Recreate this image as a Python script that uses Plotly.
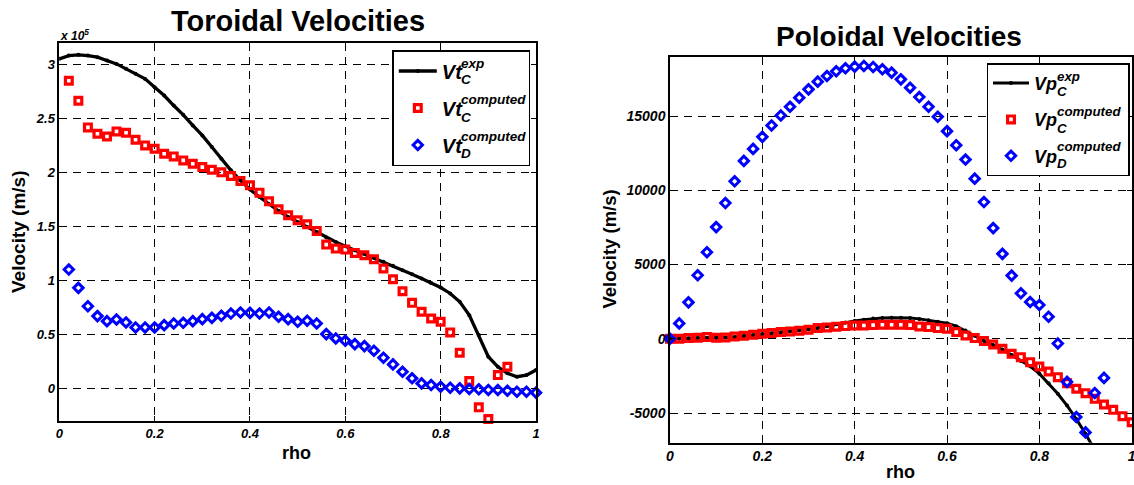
import plotly.graph_objects as go

# ---------------- data ----------------
rho_all = [round(0.02 * i, 2) for i in range(0, 51)]          # 0 .. 1.0

# Toroidal (units of 1e5 m/s)
vt_exp = [3.056, 3.086, 3.093, 3.086, 3.071, 3.04, 3.009, 2.963, 2.917, 2.87,
          2.793, 2.716, 2.623, 2.537, 2.438, 2.346, 2.238, 2.13, 2.022, 1.929,
          1.843, 1.775, 1.707, 1.645, 1.59, 1.543, 1.497, 1.451, 1.398, 1.358,
          1.318, 1.281, 1.25, 1.213, 1.173, 1.136, 1.096, 1.059, 1.019, 0.978,
          0.935, 0.88, 0.802, 0.679, 0.494, 0.293, 0.2, 0.139, 0.108, 0.123, 0.17]
vt_c_comp = [2.852, 2.667, 2.42, 2.361, 2.336, 2.383, 2.37, 2.306, 2.253, 2.222,
             2.176, 2.151, 2.114, 2.083, 2.052, 2.028, 2.003, 1.969, 1.923, 1.883,
             1.815, 1.735, 1.66, 1.605, 1.559, 1.522, 1.46, 1.333, 1.296, 1.287,
             1.256, 1.235, 1.198, 1.111, 1.012, 0.901, 0.793, 0.71, 0.648, 0.617,
             0.519, 0.33, 0.068, -0.176, -0.284, 0.123, 0.2]
vt_d_comp = [1.102, 0.932, 0.762, 0.670, 0.623, 0.639, 0.611, 0.565, 0.565, 0.565,
             0.586, 0.602, 0.608, 0.623, 0.642, 0.654, 0.673, 0.694, 0.704, 0.70,
             0.694, 0.704, 0.664, 0.642, 0.617, 0.627, 0.602, 0.503, 0.463, 0.441,
             0.41, 0.392, 0.349, 0.284, 0.222, 0.154, 0.093, 0.046, 0.031, 0.015,
             0.006, 0.0, -0.006, -0.009, -0.015, -0.015, -0.022, -0.031, -0.031, -0.040]

# Poloidal (m/s)
vp_exp = [0, 10, 30, 50, 60, 60, 80, 120, 180, 250,
          320, 380, 440, 500, 560, 620, 720, 850, 980, 1100,
          1200, 1290, 1360, 1400, 1420, 1420, 1400, 1340, 1250, 1150,
          1050, 850, 550, 200, -150, -420, -720, -1100, -1500, -1850,
          -2350, -3000, -3700, -4500, -5400, -6400, -7500]
vp_c_comp = [0, 0, 45, 67, 112, 67, 90, 157, 202, 270,
             337, 382, 449, 494, 539, 607, 719, 764, 809, 854,
             899, 899, 921, 944, 944, 944, 921, 831, 787, 719,
             674, 449, 225, 45, -157, -382, -674, -1011, -1236, -1573,
             -1865, -2202, -2584, -2989, -3371, -3663, -4045, -4427, -4787, -5213,
             -5618]
vp_d_comp = [0, 1036, 2455, 4279, 5833, 7522, 9143, 10607, 11981, 12791,
             13602, 14368, 15043, 15629, 16237, 16800, 17318, 17700, 18016, 18219,
             18331, 18376, 18309, 18151, 17926, 17476, 16913, 16282, 15629, 14953,
             13985, 13039, 12071, 10787, 9211, 7454, 5720, 4256, 3063, 2477,
             2275, 1486, -315, -2905, -5270, -6306, -3648, -2635]

x_ticks = [0, 0.2, 0.4, 0.6, 0.8, 1]
x_ticktext = ["0", "0.2", "0.4", "0.6", "0.8", "1"]
yt_ticks = [0, 0.5, 1, 1.5, 2, 2.5, 3]
yt_ticktext = ["0", "0.5", "1", "1.5", "2", "2.5", "3"]
yp_ticks = [-5000, 0, 5000, 10000, 15000]
yp_ticktext = ["-5000", "0", "5000", "10000", "15000"]

# ---------------- figure ----------------
W, H = 1134, 485
FONT = "Liberation Sans, Arial, Helvetica, sans-serif"


def X(px):
    return px / W


def Y(py):
    return 1 - py / H


fig = go.Figure()

RED = "#FF0000"
BLUE = "#0000FF"
SQ = dict(symbol="square-open", size=6.8, color=RED, line=dict(width=3.2, color=RED))
DI = dict(symbol="diamond-open", size=7.2, color=BLUE, line=dict(width=3.0, color=BLUE))
NB = "\u00a0"


def lname(s, pad):
    return "<b><i>" + s + "</i></b>" + NB * pad


# left panel
fig.add_trace(go.Scatter(x=rho_all[:len(vt_exp)], y=vt_exp, mode="lines+markers",
                         line=dict(color="black", width=3.3), marker=dict(size=4, color="black"),
                         name=lname("Vt", 11), legendgroup="a", legend="legend", xaxis="x", yaxis="y"))
fig.add_trace(go.Scatter(x=rho_all[1:1 + len(vt_c_comp)], y=vt_c_comp, mode="markers",
                         marker=SQ, cliponaxis=False, name=lname("Vt", 11), legendgroup="b",
                         legend="legend", xaxis="x", yaxis="y"))
fig.add_trace(go.Scatter(x=rho_all[1:1 + len(vt_d_comp)], y=vt_d_comp, mode="markers",
                         marker=DI, cliponaxis=False, name=lname("Vt", 11), legendgroup="c",
                         legend="legend", xaxis="x", yaxis="y"))

# right panel
fig.add_trace(go.Scatter(x=rho_all[:len(vp_exp)], y=vp_exp, mode="lines+markers",
                         line=dict(color="black", width=3), marker=dict(size=4, color="black"),
                         name=lname("Vp", 13), legendgroup="a", legend="legend2", xaxis="x2", yaxis="y2"))
fig.add_trace(go.Scatter(x=rho_all[:len(vp_c_comp)], y=vp_c_comp, mode="markers",
                         marker=SQ, cliponaxis=False, name=lname("Vp", 13), legendgroup="b",
                         legend="legend2", xaxis="x2", yaxis="y2"))
fig.add_trace(go.Scatter(x=rho_all[:len(vp_d_comp)], y=vp_d_comp, mode="markers",
                         marker=DI, cliponaxis=False, name=lname("Vp", 13), legendgroup="c",
                         legend="legend2", xaxis="x2", yaxis="y2"))

tickfont = dict(family=FONT, size=13, color="black", weight="bold", style="italic")
tickfont_r = dict(family=FONT, size=14, color="black", weight="bold", style="italic")
common = dict(showgrid=True, gridcolor="black", gridwidth=1, griddash="8px,6px",
              showline=True, linecolor="black", linewidth=1.5, mirror="ticks",
              ticks="inside", ticklen=5, tickcolor="black", zeroline=False,
              automargin=False, ticklabeloverflow="allow")

fig.update_layout(
    width=W, height=H,
    margin=dict(l=0, r=0, t=0, b=0),
    paper_bgcolor="white", plot_bgcolor="white",
    font=dict(family=FONT, color="black"),
    xaxis=dict(domain=[X(59.3), X(536)], range=[0, 1], tickvals=x_ticks, ticktext=x_ticktext,
               tickfont=tickfont, anchor="y", **common),
    yaxis=dict(domain=[Y(420.7), Y(43.3)], range=[-0.3, 3.2], tickvals=yt_ticks, ticktext=yt_ticktext,
               tickfont=tickfont, anchor="x", **common),
    xaxis2=dict(domain=[X(670), X(1131.7)], range=[0, 1], tickvals=x_ticks, ticktext=x_ticktext,
                tickfont=tickfont_r, anchor="y2", **common),
    yaxis2=dict(domain=[Y(442.7), Y(56.7)], range=[-7000, 19000], tickvals=yp_ticks, ticktext=yp_ticktext,
                tickfont=tickfont_r, anchor="x2", **common),
    legend=dict(x=X(392.3), y=Y(50), xanchor="left", yanchor="top", bgcolor="white",
                bordercolor="black", borderwidth=1.5, itemwidth=38, tracegroupgap=8,
                traceorder="grouped",
                font=dict(family=FONT, size=20, color="black")),
    legend2=dict(x=X(986.5), y=Y(63.3), xanchor="left", yanchor="top", bgcolor="white",
                 bordercolor="black", borderwidth=1.5, itemwidth=36, tracegroupgap=10,
                 traceorder="grouped",
                 font=dict(family=FONT, size=18, color="black")),
    showlegend=True,
)

annots = []


def txt(text, px, py, size, xanchor="center", yanchor="middle", angle=0, bold=True, italic=False):
    t = text
    if italic:
        t = "<i>" + t + "</i>"
    if bold:
        t = "<b>" + t + "</b>"
    annots.append(dict(text=t, x=X(px), y=Y(py), xref="paper", yref="paper", showarrow=False,
                       xanchor=xanchor, yanchor=yanchor, textangle=angle, borderpad=0, borderwidth=0,
                       font=dict(family=FONT, size=size, color="black")))


# titles and axis labels
txt("Toroidal Velocities", 297.5, 20.7, 29)
txt("Poloidal Velocities", 899, 36.7, 28)
txt("Velocity (m/s)", 18, 232, 19, angle=-90)
txt("Velocity (m/s)", 609.6, 249, 18.5, angle=-90)
txt("rho", 296, 453, 18)
txt("rho", 900, 472, 18)
txt("x 10<sup>5</sup>", 60, 35, 12, xanchor="left", italic=True)

# legend super/subscripts
for (sup, sub, ys, yb) in [("exp", "C", 63.3, 80), ("computed", "C", 100, 117), ("computed", "D", 136.7, 153)]:
    txt(sup, 460.5, ys, 13.5, xanchor="left", italic=True)
    txt(sub, 460.5, yb, 13.5, xanchor="left", italic=True)
for (sup, sub, ys, yb) in [("exp", "C", 76, 91.7), ("computed", "C", 111.7, 128.3), ("computed", "D", 146.7, 163.3)]:
    txt(sup, 1057, ys, 13.3, xanchor="left", italic=True)
    txt(sub, 1057, yb, 13.3, xanchor="left", italic=True)

fig.update_layout(annotations=annots)
fig.write_html("out.html", config={"displayModeBar": False},
               post_script="document.body.style.margin='0px';document.body.style.overflow='hidden';")
